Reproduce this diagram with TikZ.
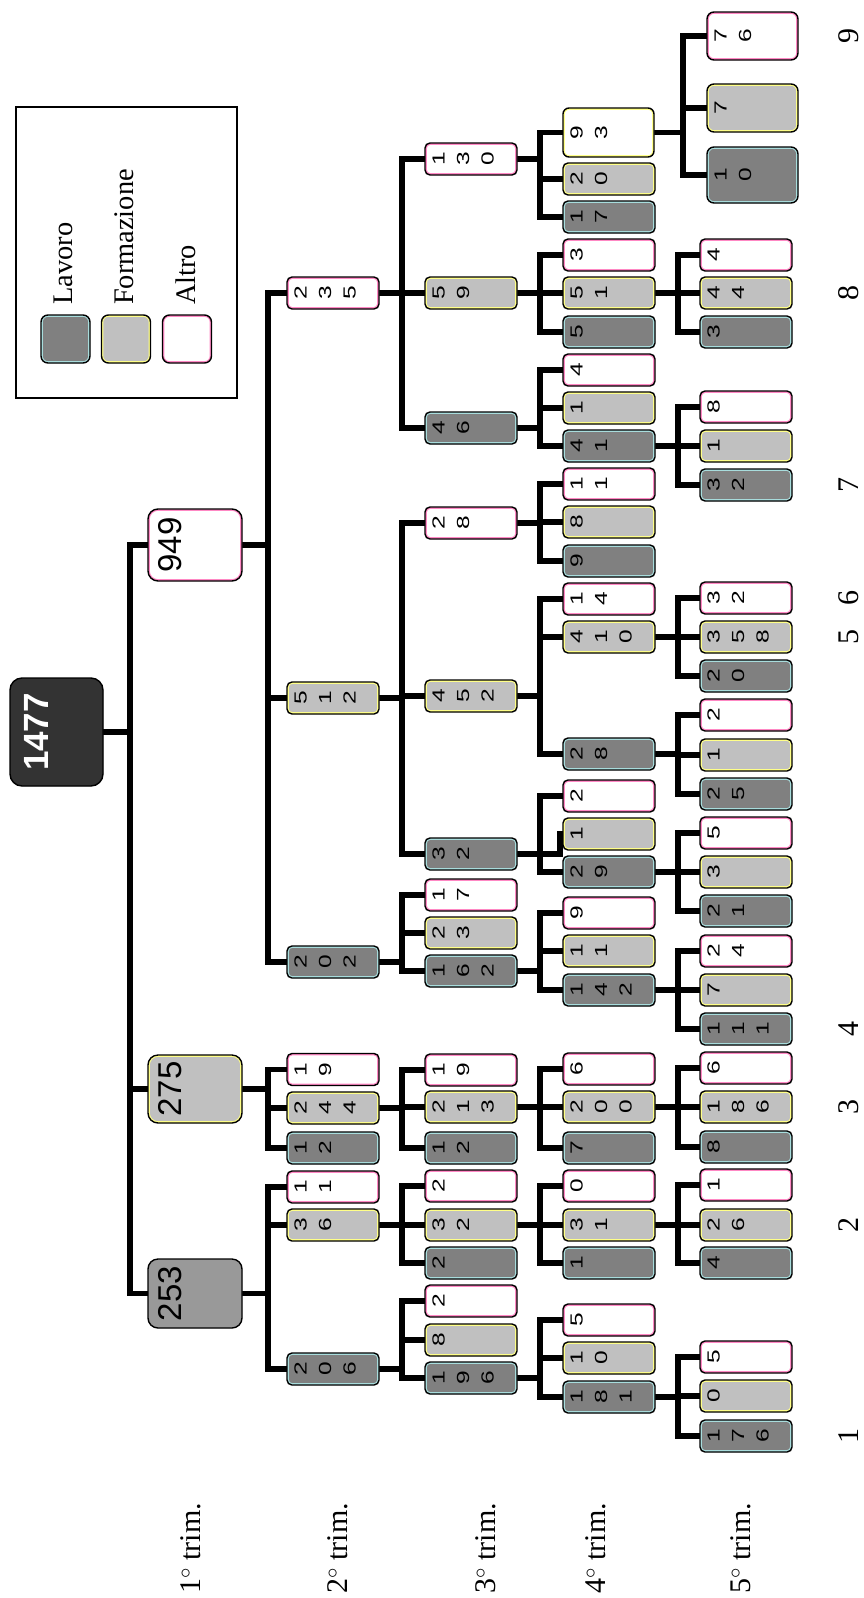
\documentclass[tikz,border=0pt]{standalone}
\usepackage{fontspec}
\setmainfont{Liberation Serif}
\newfontfamily\dfont{Liberation Sans}
\newfontfamily\dwide[FakeStretch=1.4]{Liberation Sans}
\usetikzlibrary{backgrounds}
\definecolor{lavfill}{HTML}{808080}
\definecolor{lavline}{HTML}{A8DCDC}
\definecolor{formfill}{HTML}{C0C0C0}
\definecolor{formline}{HTML}{FFFF88}
\definecolor{altfill}{HTML}{FFFFFF}
\definecolor{altline}{HTML}{FF88C4}
\definecolor{midfill}{HTML}{999999}
\colorlet{midline}{midfill}
\definecolor{rootfill}{HTML}{333333}
\colorlet{rootline}{rootfill}
\colorlet{wyfill}{white}
\colorlet{wyline}{formline}
\tikzset{
  box/.style 2 args={draw=black, line width=1.4pt, rounded corners=#2, fill=#1fill, inner sep=0pt,
    path picture={\draw[#1line, line width=3.6pt, rounded corners=#2] (path picture bounding box.south west) rectangle (path picture bounding box.north east);}},
  dig/.style={font=\dwide\fontsize{17.5}{24.5}\selectfont, rotate=90, align=center, inner sep=0pt},
  bigt/.style={font=\dfont\fontsize{33}{38}\selectfont, rotate=90, inner sep=0pt},
  conn/.style={draw=black, line width=5.6pt, line cap=rect},
  lab/.style={font=\fontsize{30}{36}\selectfont, rotate=90, inner sep=0pt, anchor=base west},
  num/.style={font=\fontsize{30}{36}\selectfont, rotate=90, inner sep=0pt, anchor=base},
  legt/.style={font=\fontsize{28.4}{32}\selectfont, rotate=90, inner sep=0pt, anchor=base west},
}
\newcommand\bxs[5]{%
  \node[box={#4}{5pt}, minimum width=92, minimum height=32] (#1) at (#2+46,#3) {};
  \node[dig, anchor=north] (#1t) at ([xshift=8pt]#1.west) {#5};
}
\newcommand\tfam[5]{%
  \draw[conn] (#1.east) -- (#1.east -| #2);
  \draw[conn] (#2 |- #3.west) -- (#2 |- #5.west);
  \foreach \c in {#3,#4,#5}{\draw[conn] (#2 |- \c.west) -- (\c.west);}
}
\begin{document}
\begin{tikzpicture}[x=1pt,y=-1pt]
\useasboundingbox (0,0) rectangle (863,1598);
% bus coordinates
\coordinate (busR) at (130,0);
\coordinate (busA) at (268,0);
\coordinate (busB) at (402,0);
\coordinate (busC) at (540,0);
\coordinate (busD) at (678,0);
\coordinate (busD2) at (683,0);
\coordinate (tk) at (560,0);

% root
\node[box={root}{12pt}, minimum width=93, minimum height=108] (root) at (56.5,732) {};
\node[font=\dfont\bfseries\fontsize{35}{40}\selectfont, text=white, rotate=90, inner sep=0pt, anchor=north] (roott) at ([xshift=15pt]root.west) {1477};

% level 1
\node[box={alt}{10pt}, minimum width=94, minimum height=72] (n949) at (195,545) {};
\node[bigt, anchor=north] (n949t) at ([xshift=11pt]n949.west) {949};
\node[box={form}{10pt}, minimum width=94, minimum height=68] (n275) at (195,1089) {};
\node[bigt, anchor=north] (n275t) at ([xshift=11pt]n275.west) {275};
\node[box={mid}{10pt}, minimum width=94, minimum height=69] (n253) at (195,1293.5) {};
\node[bigt, anchor=north] (n253t) at ([xshift=11pt]n253.west) {253};

% column B
\bxs{b235}{287}{293}{alt}{2\\3\\5}
\bxs{b512}{287}{698}{form}{5\\1\\2}
\bxs{b202}{287}{962}{lav}{2\\0\\2}
\bxs{b19}{287}{1069.5}{alt}{1\\9}
\bxs{b244}{287}{1108}{form}{2\\4\\4}
\bxs{b12}{287}{1148}{lav}{1\\2}
\bxs{b11}{287}{1187}{alt}{1\\1}
\bxs{b36}{287}{1225}{form}{3\\6}
\bxs{b206}{287}{1369}{lav}{2\\0\\6}

% column C
\bxs{c130}{425}{159}{alt}{1\\3\\0}
\bxs{c59}{425}{293}{form}{5\\9}
\bxs{c46}{425}{428}{lav}{4\\6}
\bxs{c28}{425}{523}{alt}{2\\8}
\bxs{c452}{425}{696}{form}{4\\5\\2}
\bxs{c32}{425}{854}{lav}{3\\2}
\bxs{c17}{425}{895}{alt}{1\\7}
\bxs{c23}{425}{933}{form}{2\\3}
\bxs{c162}{425}{971}{lav}{1\\6\\2}
\bxs{c19}{425}{1070}{alt}{1\\9}
\bxs{c213}{425}{1107}{form}{2\\1\\3}
\bxs{c12}{425}{1148}{lav}{1\\2}
\bxs{c2a}{425}{1186}{alt}{2}
\bxs{c32b}{425}{1225}{form}{3\\2}
\bxs{c2l}{425}{1263}{lav}{2}
\bxs{c2b}{425}{1301}{alt}{2}
\bxs{c8}{425}{1340}{form}{8}
\bxs{c196}{425}{1378}{lav}{1\\9\\6}

% column D
\node[box={wy}{6pt}, minimum width=91, minimum height=49] (d93) at (608.5,132.5) {};
\node[dig, anchor=north] (d93t) at ([xshift=8pt]d93.west) {9\\3};
\bxs{d20}{563}{179}{form}{2\\0}
\bxs{d17}{563}{217}{lav}{1\\7}
\bxs{d3}{563}{255}{alt}{3}
\bxs{d51}{563}{293}{form}{5\\1}
\bxs{d5}{563}{332}{lav}{5}
\bxs{d4}{563}{370}{alt}{4}
\bxs{d1}{563}{408}{form}{1}
\bxs{d41}{563}{446}{lav}{4\\1}
\bxs{d11}{563}{484}{alt}{1\\1}
\bxs{d8}{563}{522}{form}{8}
\bxs{d9}{563}{561}{lav}{9}
\bxs{d14}{563}{599}{alt}{1\\4}
\bxs{d410}{563}{637}{form}{4\\1\\0}
\bxs{d28}{563}{754}{lav}{2\\8}
\bxs{d2}{563}{796}{alt}{2}
\bxs{d1b}{563}{834}{form}{1}
\bxs{d29}{563}{872}{lav}{2\\9}
\bxs{d9b}{563}{913}{alt}{9}
\bxs{d11b}{563}{951}{form}{1\\1}
\bxs{d142}{563}{990}{lav}{1\\4\\2}
\bxs{d6}{563}{1069}{alt}{6}
\bxs{d200}{563}{1107}{form}{2\\0\\0}
\bxs{d7}{563}{1148}{lav}{7}
\bxs{d0}{563}{1186}{alt}{0}
\bxs{d31}{563}{1225}{form}{3\\1}
\bxs{d1c}{563}{1263}{lav}{1}
\bxs{d5b}{563}{1320}{alt}{5}
\bxs{d10}{563}{1358}{form}{1\\0}
\bxs{d181}{563}{1397}{lav}{1\\8\\1}

% column E
\node[box={alt}{7pt}, minimum width=91, minimum height=48] (e76) at (752.5,36) {};
\node[dig, anchor=north] (e76t) at ([xshift=8pt]e76.west) {7\\6};
\node[box={form}{7pt}, minimum width=91, minimum height=48] (e7) at (752.5,108) {};
\node[dig, anchor=north] (e7t) at ([xshift=8pt]e7.west) {7};
\node[box={lav}{7pt}, minimum width=91, minimum height=56] (e10) at (752.5,175) {};
\node[dig, anchor=north] (e10t) at ([xshift=8pt]e10.west) {1\\0};
\bxs{e4}{700}{255}{alt}{4}
\bxs{e44}{700}{293}{form}{4\\4}
\bxs{e3}{700}{332}{lav}{3}
\bxs{e8}{700}{407}{alt}{8}
\bxs{e1}{700}{446}{form}{1}
\bxs{e32}{700}{485}{lav}{3\\2}
\bxs{e32b}{700}{598}{alt}{3\\2}
\bxs{e358}{700}{637}{form}{3\\5\\8}
\bxs{e20}{700}{676}{lav}{2\\0}
\bxs{e2}{700}{715}{alt}{2}
\bxs{e1b}{700}{755}{form}{1}
\bxs{e25}{700}{794}{lav}{2\\5}
\bxs{e5}{700}{833}{alt}{5}
\bxs{e3b}{700}{872}{form}{3}
\bxs{e21}{700}{911}{lav}{2\\1}
\bxs{e24}{700}{951}{alt}{2\\4}
\bxs{e7b}{700}{990}{form}{7}
\bxs{e111}{700}{1029}{lav}{1\\1\\1}
\bxs{e6}{700}{1068}{alt}{6}
\bxs{e186}{700}{1107}{form}{1\\8\\6}
\bxs{e8b}{700}{1147}{lav}{8}
\bxs{e1c}{700}{1185}{alt}{1}
\bxs{e26}{700}{1225}{form}{2\\6}
\bxs{e4b}{700}{1263}{lav}{4}
\bxs{e5b}{700}{1357}{alt}{5}
\bxs{e0}{700}{1396}{form}{0}
\bxs{e176}{700}{1436}{lav}{1\\7\\6}

% connectors
\begin{pgfonlayer}{background}
\tfam{root}{busR}{n949}{n275}{n253}
\tfam{n949}{busA}{b235}{b512}{b202}
\tfam{n275}{busA}{b19}{b244}{b12}
\tfam{n253}{busA}{b11}{b36}{b206}
\tfam{b235}{busB}{c130}{c59}{c46}
\tfam{b512}{busB}{c28}{c452}{c32}
\tfam{b202}{busB}{c17}{c23}{c162}
\tfam{b244}{busB}{c19}{c213}{c12}
\tfam{b36}{busB}{c2a}{c32b}{c2l}
\tfam{b206}{busB}{c2b}{c8}{c196}
\tfam{c130}{busC}{d93}{d20}{d17}
\tfam{c59}{busC}{d3}{d51}{d5}
\tfam{c46}{busC}{d4}{d1}{d41}
\tfam{c28}{busC}{d11}{d8}{d9}
\tfam{c452}{busC}{d14}{d410}{d28}
\tfam{c162}{busC}{d9b}{d11b}{d142}
\tfam{c213}{busC}{d6}{d200}{d7}
\tfam{c32b}{busC}{d0}{d31}{d1c}
\tfam{c196}{busC}{d5b}{d10}{d181}
% irregular family of c32
\draw[conn] (c32.east) -- (c32.east -| tk) -- (tk |- d1b.west) -- (d1b.west);
\draw[conn] (busC |- d2.west) -- (busC |- d29.west);
\draw[conn] (busC |- d2.west) -- (d2.west);
\draw[conn] (busC |- d29.west) -- (d29.west);
\tfam{d93}{busD2}{e76}{e7}{e10}
\tfam{d51}{busD}{e4}{e44}{e3}
\tfam{d41}{busD}{e8}{e1}{e32}
\tfam{d410}{busD}{e32b}{e358}{e20}
\tfam{d28}{busD}{e2}{e1b}{e25}
\tfam{d29}{busD}{e5}{e3b}{e21}
\tfam{d142}{busD}{e24}{e7b}{e111}
\tfam{d200}{busD}{e6}{e186}{e8b}
\tfam{d31}{busD}{e1c}{e26}{e4b}
\tfam{d181}{busD}{e5b}{e0}{e176}
\end{pgfonlayer}

% row labels
\node[lab] (l1) at (200,1594) {1$^\circ$ trim.};
\node[lab] (l2) at (347,1594) {2$^\circ$ trim.};
\node[lab] (l3) at (495,1594) {3$^\circ$ trim.};
\node[lab] (l4) at (605,1594) {4$^\circ$ trim.};
\node[lab] (l5) at (750,1594) {5$^\circ$ trim.};

% numbers
\node[num] (k1) at (858,1436) {1};
\node[num] (k2) at (858,1225) {2};
\node[num] (k3) at (858,1107) {3};
\node[num] (k4) at (858,1029) {4};
\node[num] (k5) at (858,637) {5};
\node[num] (k6) at (858,598) {6};
\node[num] (k7) at (858,485) {7};
\node[num] (k8) at (858,293) {8};
\node[num] (k9) at (858,36) {9};

% legend
\node[draw=black, line width=2pt, inner sep=0pt, minimum width=221, minimum height=291] (leg) at (126.5,252.5) {};
\node[box={lav}{7pt}, minimum width=49, minimum height=48] (lg1) at (65.5,339) {};
\node[box={form}{7pt}, minimum width=49, minimum height=48] (lg2) at (126,339) {};
\node[box={alt}{7pt}, minimum width=49, minimum height=48] (lg3) at (187,339) {};
\node[legt] (lg1t) at (72,305) {Lavoro};
\node[legt] (lg2t) at (133,305) {Formazione};
\node[legt] (lg3t) at (195,305) {Altro};
\end{tikzpicture}
\end{document}
